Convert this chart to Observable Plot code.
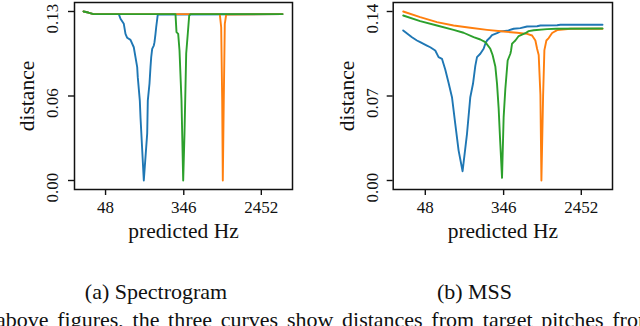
<!DOCTYPE html>
<html>
<head>
<meta charset="utf-8">
<script src="https://cdn.jsdelivr.net/npm/d3@7"></script>
<script src="https://cdn.jsdelivr.net/npm/@observablehq/plot@0.6"></script>
<style>
  html, body { margin: 0; padding: 0; background: #fff; }
  #root { position: relative; width: 640px; height: 326px; overflow: hidden; background: #fff; font-family: "Liberation Serif", serif; }
  .panel { position: absolute; top: 0; }
  .cap { position: absolute; font-size: 22px; white-space: nowrap; color: #111; line-height: 1; }
</style>
</head>
<body>
<div id="root"></div>
<script>
// ---- data: [predicted Hz, distance] ----
const xTicks = [48, 346, 2452];
const xTickLabels = ["48", "346", "2452"];

// (a) Spectrogram
const specBlue = [[27.5,0.1300],[31,0.1292],[35.4,0.1280],[67.1,0.1280],[70.0,0.1244],[76.1,0.1205],[79.4,0.1128],[82.9,0.1098],[90.1,0.1082],[97.9,0.1025],[106.7,0.0872],[108.3,0.0795],[114.0,0.0615],[116.0,0.0487],[126.1,0.0000],[137.4,0.0362],[139.5,0.0615],[145.6,0.0746],[149.3,0.0872],[152.0,0.0948],[155.8,0.1013],[162.3,0.1038],[165.2,0.1064],[169.4,0.1128],[172.4,0.1179],[179.5,0.1277],[4186,0.1280]];
const specOrange = [[27.5,0.1300],[31,0.1292],[35.4,0.1280],[859,0.1280],[890,0.1179],[913,0.0615],[927,0.0000],[950,0.0615],[975,0.1205],[1010,0.1277],[4186,0.1280]];
const specGreen = [[27.5,0.1300],[31,0.1292],[35.4,0.1280],[280.7,0.1280],[287.9,0.1141],[300.5,0.1128],[310.6,0.1000],[326.6,0.0615],[340.9,0.0000],[352.4,0.0362],[367.8,0.0977],[383.0,0.1131],[396.7,0.1269],[410,0.1280],[4186,0.1280]];
const specYTicks = [0, 0.065, 0.13];
const specYTickLabels = ["0.00", "0.06", "0.13"];

// (b) MSS
const mssBlue = [[27.5,0.1243],[34.3,0.1187],[38.9,0.1160],[42.2,0.1146],[50.0,0.1118],[54.4,0.1104],[61.7,0.1077],[67.1,0.1022],[73.1,0.1008],[79.4,0.0920],[86.3,0.0810],[94.1,0.0690],[102.2,0.0470],[111.1,0.0250],[122.9,0.0077],[137.4,0.0387],[149.3,0.0690],[159.8,0.0801],[169.4,0.0950],[176.8,0.1022],[192.2,0.1050],[208.9,0.1091],[218.1,0.1133],[227.6,0.1160],[247.4,0.1187],[258.3,0.1205],[293.0,0.1220],[318.5,0.1235],[377.2,0.1240],[445.6,0.1257],[527.7,0.1262],[625.0,0.1276],[804.5,0.1278],[874.5,0.1284],[1333,0.1286],[1449,0.1290],[4186,0.1290]];
const mssOrange = [[27.5,0.1400],[42.2,0.1353],[64.4,0.1312],[97.9,0.1284],[149.3,0.1265],[227.6,0.1248],[346.1,0.1234],[485.5,0.1224],[625.0,0.1215],[709.1,0.1201],[770.7,0.1160],[804.5,0.1091],[837.8,0.1040],[874.5,0.0710],[897,0.0000],[936,0.0700],[967,0.1080],[1017,0.1160],[1078,0.1180],[1175,0.1222],[1333,0.1246],[1865,0.1257],[4186,0.1257]];
const mssGreen = [[27.5,0.1367],[42.2,0.1320],[64.4,0.1284],[97.9,0.1248],[126.1,0.1224],[162.3,0.1187],[192.2,0.1168],[218.1,0.1146],[247.4,0.1091],[262,0.1040],[280.7,0.0945],[293.0,0.0800],[305.1,0.0600],[316,0.0350],[332.4,0.0022],[346.1,0.0524],[361.3,0.0760],[383.0,0.0994],[410.0,0.1050],[417.3,0.1077],[428.0,0.1133],[445.6,0.1146],[465.2,0.1160],[505.6,0.1197],[573.6,0.1215],[598.7,0.1220],[650.8,0.1237],[738.3,0.1245],[1035,0.1254],[1300,0.1257],[4186,0.1259]];
const mssYTicks = [0, 0.07, 0.14];
const mssYTickLabels = ["0.00", "0.07", "0.14"];

const colors = ["#1f77b4", "#ff7f0e", "#2ca02c"];
const xLabel = "predicted Hz";
const yLabel = "distance";
const captions = ["(a) Spectrogram", "(b) MSS"];
const footText = "above figures, the three curves show distances from target pitches from";

function panel(series, yTicks, yTickLabels, yMax, ml, il) {
  const xMap = new Map(xTicks.map((t, i) => [t, xTickLabels[i]]));
  const yMap = new Map(yTicks.map((t, i) => [t, yTickLabels[i]]));
  return Plot.plot({
    width: 320, height: 250,
    marginLeft: ml, marginRight: 28, marginTop: 2, marginBottom: 61,
    insetLeft: il, insetRight: 10, insetTop: 9, insetBottom: 9,
    x: {type: "log", domain: [27.5, 4186]},
    y: {domain: [0, yMax]},
    style: {fontFamily: "Liberation Serif", background: "transparent", color: "#111"},
    marks: [
      ...series.map((s, i) => Plot.line(s, {x: d => d[0], y: d => d[1], stroke: colors[i], strokeWidth: 1.9})),
      Plot.frame({stroke: "#111", strokeWidth: 1.5}),
      Plot.axisX({ticks: xTicks, tickFormat: d => xMap.get(d), tickSize: 6, tickPadding: 5, fontSize: 17, strokeWidth: 1.4, label: null}),
      Plot.axisY({ticks: yTicks, tickFormat: () => "", tickSize: 6, strokeWidth: 1.4, label: null}),
      Plot.text(yTicks, {y: d => d, text: d => yMap.get(d), frameAnchor: "left", textAnchor: "middle", dx: -(ml - 52), dy: 7, rotate: -90, fontSize: 17}),
      Plot.text([yLabel], {frameAnchor: "left", textAnchor: "middle", dx: -(ml - 27), rotate: -90, fontSize: 21.5}),
      Plot.text([xLabel], {frameAnchor: "bottom", dy: 48, lineAnchor: "bottom", fontSize: 21.5})
    ]
  });
}

const root = document.getElementById("root");
const pa = panel([specBlue, specOrange, specGreen], specYTicks, specYTickLabels, 0.13, 74, 9);
pa.classList.add("panel"); pa.style.left = "0px";
const pb = panel([mssBlue, mssOrange, mssGreen], mssYTicks, mssYTickLabels, 0.14, 72.7, 10);
pb.classList.add("panel"); pb.style.left = "320px";
root.appendChild(pa); root.appendChild(pb);

function addText(txt, x, y, anchorCenter, wordSpacing) {
  const d = document.createElement("div");
  d.className = "cap";
  d.textContent = txt;
  d.style.top = y + "px";
  d.style.left = x + "px";
  if (anchorCenter) d.style.transform = "translateX(-50%)";
  if (wordSpacing) d.style.wordSpacing = wordSpacing + "px";
  root.appendChild(d);
}
addText(captions[0], 156, 281, true);
addText(captions[1], 474.5, 281, true);
addText(footText, -4, 309, false, 3.2);
</script>
</body>
</html>
